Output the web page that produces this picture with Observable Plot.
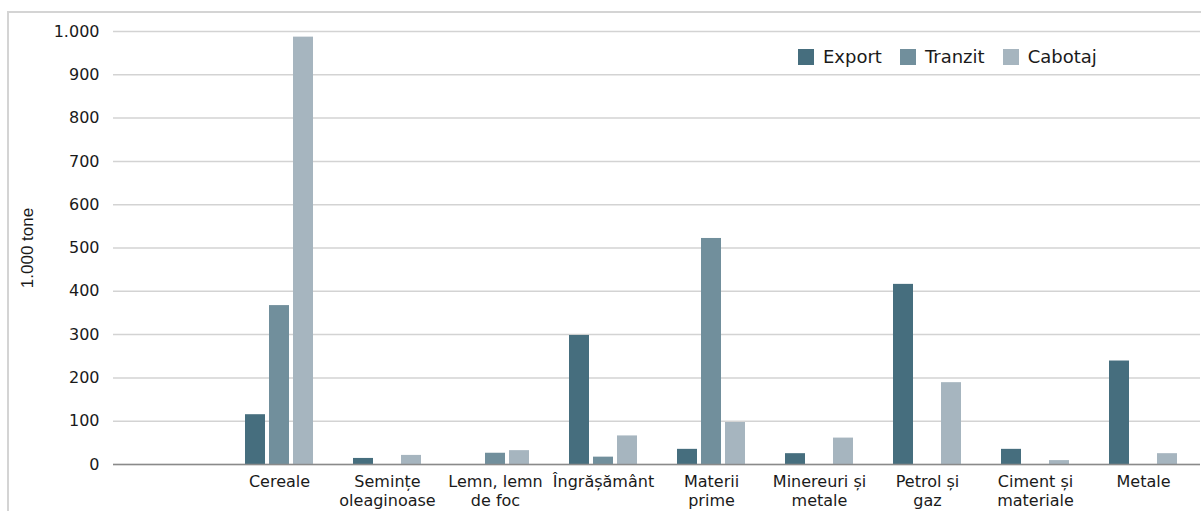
<!DOCTYPE html>
<html><head><meta charset="utf-8">
<script src="https://cdn.jsdelivr.net/npm/d3@7"></script>
<script src="https://cdn.jsdelivr.net/npm/@observablehq/plot@0.6"></script>
<style>
body{margin:0;background:#fff;width:1201px;height:511px;overflow:hidden;position:relative;font-family:"DejaVu Sans",sans-serif}
#frame{position:absolute;left:7px;top:11px;width:1300px;height:600px;border:2px solid #d4d4d4;box-sizing:border-box}
#chart{position:absolute;left:-1px;top:0}
#legend{position:absolute;left:798px;top:40px}
#chart g[aria-label="y-axis label"] text{font-size:17px;font-family:"Liberation Sans",sans-serif}
</style></head><body>
<div id="frame"></div><div id="chart"></div><div id="legend"></div>
<script>
const categories = [" ", "Cereale", "Semințe\noleaginoase", "Lemn, lemn\nde foc", "Îngrășământ", "Materii\nprime", "Minereuri și\nmetale", "Petrol și\ngaz", "Ciment și\nmateriale", "Metale"];
const series = ["Export", "Tranzit", "Cabotaj"];
const exportValues  = [null, 115, 14, 0, 298, 35, 25, 416, 35, 239];
const tranzitValues = [null, 367, 0, 26, 17, 522, 0, 0, 0, 0];
const cabotajValues = [null, 987, 21, 32, 66, 97, 61, 189, 9, 25];
const yTicks = [0, 100, 200, 300, 400, 500, 600, 700, 800, 900, 1000];
const colors = ["#466e7e", "#718f9c", "#a6b5bf"];

const rows = (vals, s) => categories.map((c, i) => ({cat: c, series: s, value: vals[i]})).filter(d => d.value > 0);
const fmt = d3.formatLocale({decimal: ",", thousands: ".", grouping: [3], currency: ["", ""]}).format(",");

const chart = Plot.plot({
  width: 1202, height: 530,
  marginTop: 31, marginBottom: 66, marginLeft: 114, marginRight: 1,
  style: {fontFamily: "DejaVu Sans", fontSize: "16px", color: "#1a1a1a", background: "transparent"},
  x: {domain: categories, paddingInner: 0.816, paddingOuter: 0.4, axis: null},
  y: {domain: [0, 1000], axis: null},
  color: {domain: series, range: colors},
  marks: [
    Plot.gridY(yTicks, {stroke: "#d3d3d3", strokeOpacity: 1, strokeWidth: 1.5}),
    Plot.barY(rows(exportValues, "Export"), {x: "cat", y: "value", fill: "series", dx: -24}),
    Plot.barY(rows(tranzitValues, "Tranzit"), {x: "cat", y: "value", fill: "series"}),
    Plot.barY(rows(cabotajValues, "Cabotaj"), {x: "cat", y: "value", fill: "series", dx: 24}),
    Plot.ruleY([0], {stroke: "#8a8a8a", strokeWidth: 1.5}),
    Plot.axisX({tickSize: 0, tickPadding: 9, fontSize: 16, lineHeight: 1.2, label: null}),
    Plot.axisY(yTicks, {tickSize: 0, tickPadding: 14, fontSize: 16, tickFormat: fmt, label: null}),
    Plot.axisY([], {label: "1.000 tone", labelAnchor: "center", labelOffset: 93, labelArrow: "none", fontSize: 17, fontFamily: "Liberation Sans"})
  ]
});
document.getElementById("chart").appendChild(chart);

const legend = Plot.legend({
  color: {domain: series, range: colors},
  legend: "swatches", swatchSize: 16,
  style: {fontFamily: "DejaVu Sans", fontSize: "18px", color: "#1a1a1a"}
});
document.getElementById("legend").appendChild(legend);
</script>
</body></html>
